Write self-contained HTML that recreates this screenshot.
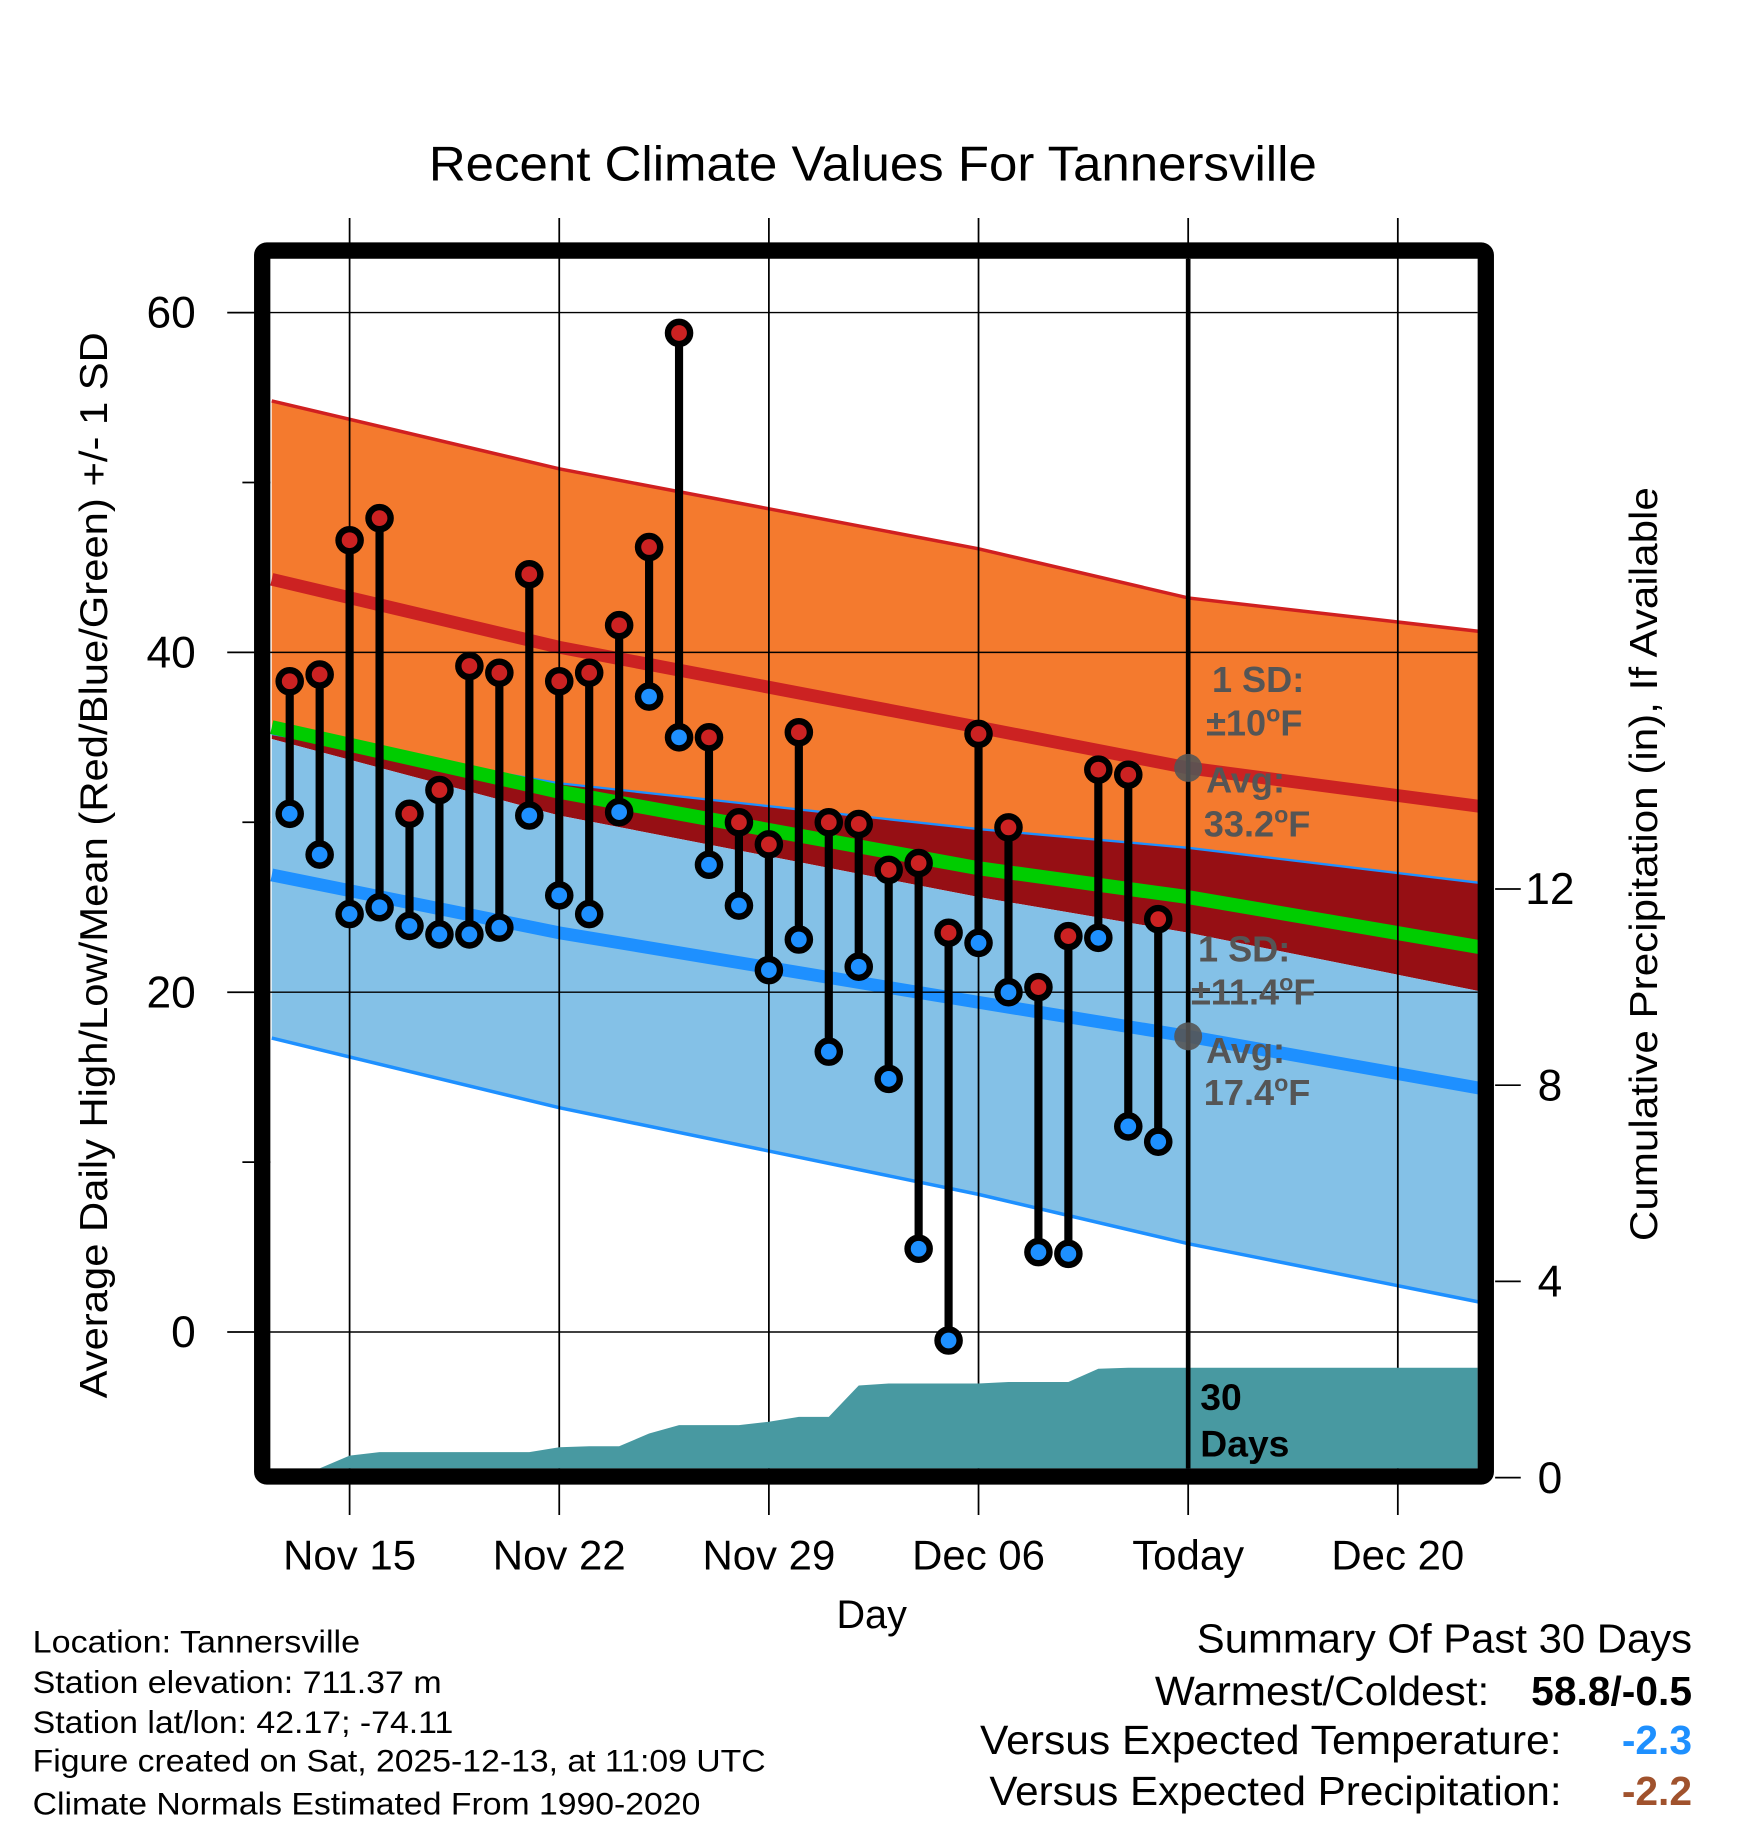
<!DOCTYPE html>
<html><head><meta charset="utf-8">
<style>
html,body{margin:0;padding:0;background:#fff;}
svg{display:block;font-family:"Liberation Sans",Arial,sans-serif;}
</style></head>
<body>
<svg id="chart" width="1748" height="1828" viewBox="0 0 1500 1568.6" xmlns="http://www.w3.org/2000/svg">
  <g id="bands"></g>
  <g id="grid"></g>
  <g id="precip"></g>
  <g id="stems"></g>
  <g id="annot"></g>
  <g id="axes"></g>
  <text x="368" y="155" font-size="42" textLength="762" lengthAdjust="spacingAndGlyphs">Recent Climate Values For Tannersville</text>
  <text x="748" y="1397" font-size="34" text-anchor="middle">Day</text>
  <text transform="translate(92,1200) rotate(-90)" font-size="33" textLength="915" lengthAdjust="spacingAndGlyphs">Average Daily High/Low/Mean (Red/Blue/Green) +/- 1 SD</text>
  <text transform="translate(1422,1065) rotate(-90)" font-size="33" textLength="647" lengthAdjust="spacingAndGlyphs">Cumulative Precipitation (in), If Available</text>
  <g font-size="27" lengthAdjust="spacingAndGlyphs">
    <text x="28" y="1418" textLength="281" lengthAdjust="spacingAndGlyphs">Location: Tannersville</text>
    <text x="28" y="1453" textLength="351" lengthAdjust="spacingAndGlyphs">Station elevation: 711.37 m</text>
    <text x="28" y="1487" textLength="361" lengthAdjust="spacingAndGlyphs">Station lat/lon: 42.17; -74.11</text>
    <text x="28" y="1520" textLength="629" lengthAdjust="spacingAndGlyphs">Figure created on Sat, 2025-12-13, at 11:09 UTC</text>
    <text x="28" y="1557" textLength="573" lengthAdjust="spacingAndGlyphs">Climate Normals Estimated From 1990-2020</text>
  </g>
  <g font-size="35">
    <text x="1027" y="1418" textLength="425" lengthAdjust="spacingAndGlyphs">Summary Of Past 30 Days</text>
    <text x="991" y="1463" textLength="287" lengthAdjust="spacingAndGlyphs">Warmest/Coldest:</text>
    <text x="1452" y="1463" text-anchor="end" font-weight="bold">58.8/-0.5</text>
    <text x="841" y="1505" textLength="499" lengthAdjust="spacingAndGlyphs">Versus Expected Temperature:</text>
    <text x="1452" y="1505" text-anchor="end" font-weight="bold" fill="#1e90ff">-2.3</text>
    <text x="849" y="1549" textLength="491" lengthAdjust="spacingAndGlyphs">Versus Expected Precipitation:</text>
    <text x="1452" y="1549" text-anchor="end" font-weight="bold" fill="#a0522d">-2.2</text>
  </g>
</svg>
<script>
// ---- data ----
const dayOffsets = [-2,-1,0,1,2,3,4,5,6,7,8,9,10,11,12,13,14,15,16,17,18,19,20,21,22,23,24,25,26,27];
const highs = [38.3,38.7,46.6,47.9,30.5,31.9,39.2,38.8,44.6,38.3,38.8,41.6,46.2,58.8,35.0,30.0,28.7,35.3,30.0,29.9,27.2,27.6,23.5,35.2,29.7,20.3,23.3,33.1,32.8,24.3];
const lows  = [30.5,28.1,24.6,25.0,23.9,23.4,23.4,23.8,30.4,25.7,24.6,30.6,37.4,35.0,27.5,25.1,21.3,23.1,16.5,21.5,14.9,4.9,-0.5,22.9,20.0,4.7,4.6,23.2,12.1,11.2];
const precipCum = [0,0,0.45,0.52,0.52,0.52,0.52,0.52,0.52,0.62,0.64,0.64,0.9,1.07,1.07,1.07,1.14,1.24,1.24,1.88,1.92,1.92,1.92,1.92,1.95,1.95,1.95,2.22,2.24,2.24];
const normDays = [-2.6,7,21,28,37.9];
const highUpper = [54.8,50.8,46.1,43.2,41.2];
const highMean  = [44.3,40.3,35.6,33.2,30.9];
const highLower = [35.2,32.3,29.6,28.5,26.4];
const avgMean   = [35.6,31.8,27.3,25.6,22.6];
const lowUpper  = [34.9,30.4,25.6,23.5,20.0];
const lowMean   = [26.9,23.5,19.4,17.4,14.3];
const lowLower  = [17.3,13.2,8.1,5.2,1.7];
const xTickDays = [0,7,14,21,28,35];
const xTickLabels = ["Nov 15","Nov 22","Nov 29","Dec 06","Today","Dec 20"];
const yTicks = [0,20,40,60];
const yMinor = [10,30,50];
const pTicks = [0,4,8,12];

// ---- scales ----
const L=232,R=1268,T=222,B=1260;
const x = d => 300 + 25.7*d;
const y = t => 1143 - 14.58*t;
const yp = p => 1268 - 42.1*p;
const NS="http://www.w3.org/2000/svg";
function mk(parent, tag, attrs){const e=document.createElementNS(NS,tag);for(const k in attrs)e.setAttribute(k,attrs[k]);document.getElementById(parent).appendChild(e);return e;}
function line(arr){return normDays.map((d,i)=>x(d).toFixed(1)+","+y(arr[i]).toFixed(1)).join(" ");}
function band(a,b){const top=normDays.map((d,i)=>x(d)+","+y(a[i]));const bot=normDays.map((d,i)=>x(d)+","+y(b[i])).reverse();return top.concat(bot).join(" ");}

let e;
e=mk('bands','polygon',{points:band(highUpper,highLower),fill:'#f47a2e'});


e=mk('bands','polygon',{points:band(highLower,lowUpper),fill:'#960f14'});


e=mk('bands','polygon',{points:band(lowUpper,lowLower),fill:'#84c1e7'});


const lines=[[highUpper,'#d02020',3,'high-upper-line'],[highMean,'#cc2222',11,'high-mean-line'],[highLower,'#1e90ff',2,'high-lower-line'],[avgMean,'#00cc00',12,'avg-mean-line'],[lowMean,'#1e90ff',11,'low-mean-line'],[lowLower,'#1e90ff',3,'low-lower-line']];
lines.forEach(l=>{e=mk('bands','polyline',{points:line(l[0]),fill:'none',stroke:l[1],'stroke-width':l[2]});

});

xTickDays.forEach((d,i)=>{e=mk('grid','line',{x1:x(d),x2:x(d),y1:187,y2:1300,stroke:'#000','stroke-width':1.5});


e=mk('axes','text',{x:x(d),y:1347,'font-size':36,'text-anchor':'middle'});e.textContent=xTickLabels[i];

});
yTicks.forEach(t=>{e=mk('grid','line',{x1:195,x2:L,y1:y(t),y2:y(t),stroke:'#000','stroke-width':1.5});


e=mk('grid','line',{x1:L,x2:R,y1:y(t),y2:y(t),stroke:'#000','stroke-width':1.2});


e=mk('axes','text',{x:168,y:y(t)+13,'font-size':38,'text-anchor':'end'});e.textContent=t;

});
yMinor.forEach(t=>{e=mk('grid','line',{x1:208,x2:L,y1:y(t),y2:y(t),stroke:'#000','stroke-width':1.5});

});
pTicks.forEach(p=>{e=mk('axes','line',{x1:1283,x2:1305,y1:yp(p),y2:yp(p),stroke:'#000','stroke-width':1.5});


e=mk('axes','text',{x:1330,y:yp(p)+13,'font-size':38,'text-anchor':'middle'});e.textContent=p;

});

let pts=[L+","+B];
dayOffsets.forEach((d,i)=>pts.push(x(d)+","+Math.min(B,yp(precipCum[i]))));
pts.push(R+","+Math.min(B,yp(precipCum[precipCum.length-1])));
pts.push(R+","+B);
e=mk('precip','polygon',{points:pts.join(" "),fill:'#4899a1'});



e=mk('stems','line',{x1:x(28),x2:x(28),y1:T,y2:B,stroke:'#000','stroke-width':4});



dayOffsets.forEach((d,i)=>{
 e=mk('stems','line',{x1:x(d),x2:x(d),y1:y(highs[i]),y2:y(lows[i]),stroke:'#000','stroke-width':7});
 
 
 e=mk('stems','circle',{cx:x(d),cy:y(highs[i]),r:9.5,fill:'#cc2222',stroke:'#000','stroke-width':5.5});
 
 
 e=mk('stems','circle',{cx:x(d),cy:y(lows[i]),r:9.5,fill:'#1e90ff',stroke:'#000','stroke-width':5.5});
 
 
});

const hm=highMean[3], lm=lowMean[3];
e=mk('annot','circle',{cx:x(28),cy:y(hm),r:12,fill:'#555',opacity:0.9});


e=mk('annot','circle',{cx:x(28),cy:y(lm),r:12,fill:'#555',opacity:0.9});


function txt(s,xx,yy,name,sz,col){e=mk('annot','text',{x:xx,y:yy,'font-size':sz||31,'font-weight':'bold',fill:col||'#555'});e.innerHTML=s;

}
txt("1 SD:",1040,594,'high-sd-label');
txt("±10<tspan font-size='20' dy='-12'>o</tspan><tspan dy='12'>F</tspan>",1035,631,'high-sd-value');
txt("Avg:",1035,680,'high-avg-label');
txt(hm.toFixed(1)+"<tspan font-size='20' dy='-12'>o</tspan><tspan dy='12'>F</tspan>",1033,718,'high-avg-value');
txt("1 SD:",1028,825,'low-sd-label');
txt("±11.4<tspan font-size='20' dy='-12'>o</tspan><tspan dy='12'>F</tspan>",1022,862,'low-sd-value');
txt("Avg:",1035,912,'low-avg-label');
txt(lm.toFixed(1)+"<tspan font-size='20' dy='-12'>o</tspan><tspan dy='12'>F</tspan>",1033,948,'low-avg-value');
txt("30",1030,1210,'days-count','32','#000');
txt("Days",1030,1250,'days-label','32','#000');

e=mk('axes','rect',{x:225,y:215,width:1050,height:1052,fill:'none',stroke:'#000','stroke-width':14,rx:4});


</script>
</body></html>
